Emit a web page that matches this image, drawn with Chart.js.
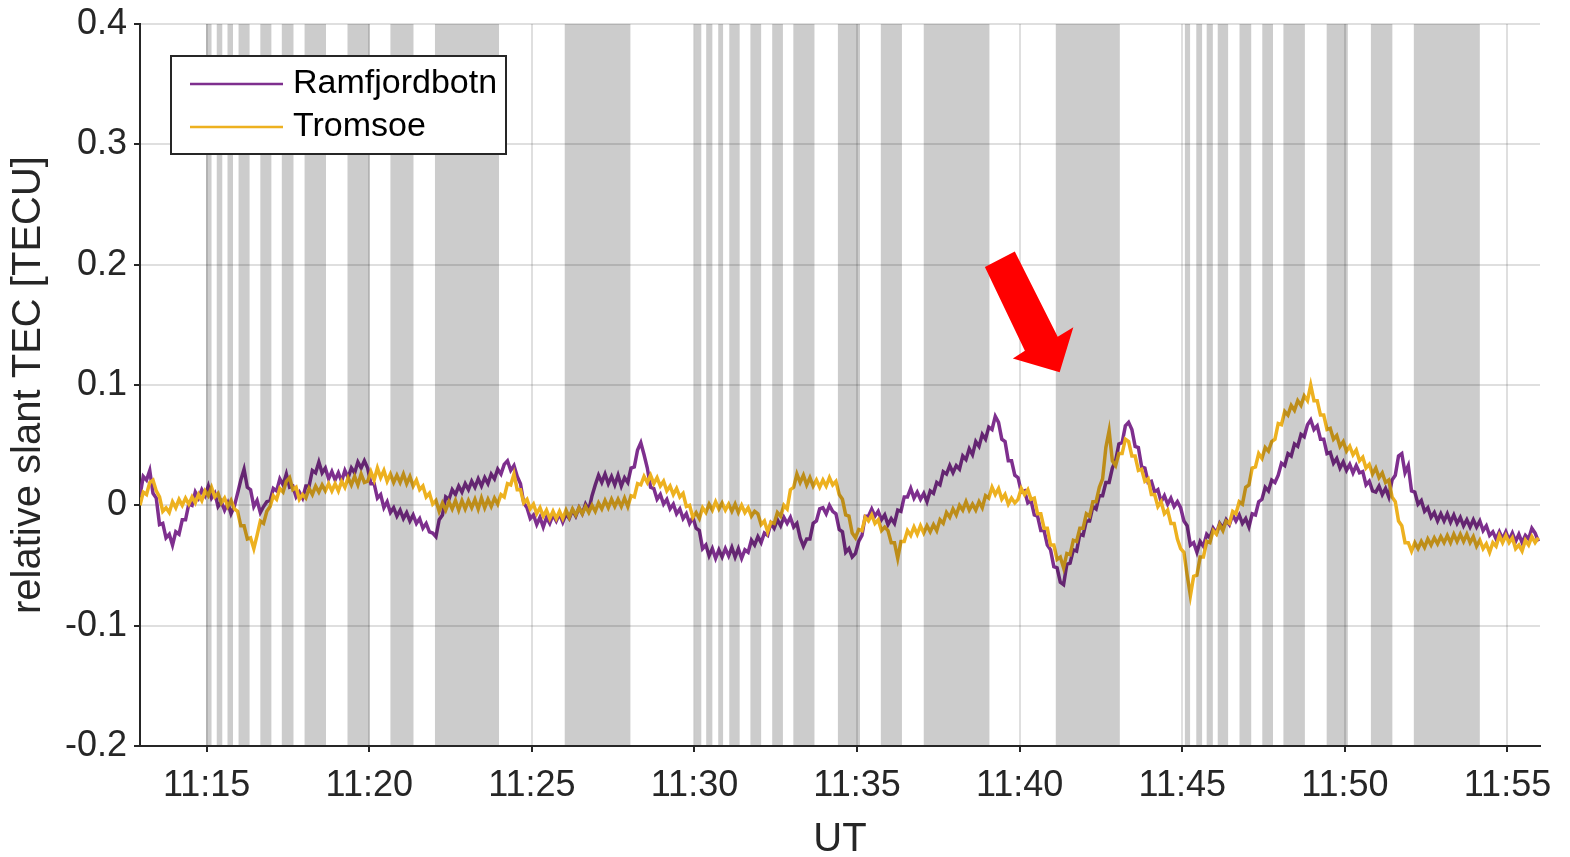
<!DOCTYPE html>
<html><head><meta charset="utf-8">
<script src="https://cdn.jsdelivr.net/npm/chart.js@4"></script>
<style>html,body{margin:0;padding:0;background:#fff}#wrap{width:1570px;height:857px}</style>
</head><body><div id="wrap"><canvas id="c" width="1570" height="857"></canvas></div>
<script>
// time in minutes after 11:00 UT, sampled every 0.1 min from 11:12.95
const T0 = 12.95, DT = 0.1;
const ramfjordbotn = [
0.008,0.024,0.021,0.029,0.010,0.006,-0.016,-0.015,-0.027,-0.024,
-0.033,-0.022,-0.024,-0.012,-0.012,0.001,0.000,0.011,0.006,0.013,
0.008,0.016,0.006,0.010,-0.001,0.003,-0.004,0.002,-0.007,-0.001,
0.010,0.021,0.030,0.015,0.013,-0.001,0.004,-0.006,-0.001,0.003,
0.004,0.014,0.012,0.022,0.017,0.026,0.015,0.016,0.007,0.011,
0.006,0.016,0.016,0.029,0.027,0.036,0.027,0.031,0.022,0.028,
0.021,0.027,0.020,0.029,0.023,0.031,0.027,0.036,0.031,0.037,
0.031,0.018,0.018,0.006,0.009,-0.002,0.003,-0.006,-0.002,-0.009,
-0.004,-0.011,-0.006,-0.013,-0.008,-0.015,-0.011,-0.019,-0.015,-0.022,
-0.023,-0.026,-0.012,-0.008,0.007,0.005,0.013,0.009,0.016,0.011,
0.018,0.013,0.020,0.015,0.022,0.016,0.023,0.018,0.026,0.022,
0.030,0.026,0.034,0.037,0.029,0.033,0.024,0.018,0.002,-0.002,
-0.011,-0.008,-0.016,-0.010,-0.018,-0.010,-0.015,-0.008,-0.013,-0.007,
-0.014,-0.007,-0.011,-0.004,-0.009,-0.002,-0.007,0.001,-0.004,0.008,
0.017,0.025,0.019,0.026,0.018,0.024,0.017,0.025,0.016,0.023,
0.019,0.031,0.032,0.046,0.052,0.042,0.031,0.015,0.014,0.005,
0.009,0.001,0.005,-0.003,0.001,-0.007,-0.003,-0.011,-0.007,-0.015,
-0.010,-0.019,-0.021,-0.036,-0.033,-0.042,-0.036,-0.044,-0.037,-0.043,
-0.036,-0.042,-0.035,-0.043,-0.036,-0.044,-0.037,-0.039,-0.029,-0.033,
-0.026,-0.031,-0.023,-0.025,-0.015,-0.019,-0.012,-0.017,-0.010,-0.015,
-0.010,-0.018,-0.015,-0.027,-0.034,-0.028,-0.028,-0.015,-0.013,-0.003,
-0.002,-0.007,0.000,-0.005,-0.007,-0.020,-0.022,-0.039,-0.036,-0.043,
-0.040,-0.030,-0.025,-0.009,-0.009,-0.003,-0.009,-0.005,-0.012,-0.008,
-0.016,-0.011,-0.015,-0.004,-0.005,0.007,0.007,0.014,0.006,0.011,
0.005,0.010,0.003,0.012,0.010,0.019,0.017,0.028,0.026,0.033,
0.027,0.033,0.030,0.041,0.038,0.047,0.042,0.053,0.049,0.059,
0.055,0.065,0.063,0.074,0.069,0.055,0.053,0.037,0.037,0.025,
0.023,0.011,0.012,0.002,0.004,-0.008,-0.009,-0.021,-0.021,-0.033,
-0.037,-0.051,-0.052,-0.064,-0.066,-0.049,-0.048,-0.037,-0.038,-0.024,
-0.025,-0.013,-0.013,-0.001,-0.003,0.008,0.008,0.019,0.019,0.031,
0.037,0.051,0.052,0.066,0.069,0.063,0.049,0.048,0.032,0.031,
0.019,0.020,0.011,0.013,0.003,0.008,0.001,0.006,-0.001,0.003,
-0.002,-0.013,-0.017,-0.033,-0.031,-0.039,-0.030,-0.034,-0.024,-0.027,
-0.019,-0.023,-0.015,-0.019,-0.012,-0.016,-0.008,-0.013,-0.008,-0.015,
-0.011,-0.018,-0.007,-0.008,0.003,0.005,0.015,0.012,0.021,0.019,
0.025,0.035,0.033,0.043,0.041,0.051,0.049,0.059,0.057,0.067,
0.071,0.063,0.066,0.055,0.055,0.043,0.044,0.035,0.039,0.031,
0.036,0.029,0.034,0.027,0.033,0.027,0.028,0.017,0.020,0.012,
0.011,0.016,0.009,0.014,0.007,0.021,0.025,0.041,0.043,0.027,
0.033,0.012,0.011,0.001,0.004,-0.005,-0.002,-0.010,-0.006,-0.013,
-0.007,-0.013,-0.007,-0.014,-0.008,-0.015,-0.010,-0.017,-0.012,-0.018,
-0.012,-0.018,-0.013,-0.021,-0.017,-0.025,-0.022,-0.028,-0.022,-0.028,
-0.022,-0.029,-0.023,-0.030,-0.024,-0.031,-0.025,-0.028,-0.019,-0.023,
-0.030];
const tromsoe = [
0.000,0.011,0.009,0.019,0.021,0.012,0.007,-0.005,-0.002,-0.006,
0.003,-0.002,0.005,0.000,0.006,0.001,0.007,0.002,0.009,0.004,
0.012,0.008,0.015,0.007,0.010,0.002,0.006,-0.001,0.004,-0.003,
-0.005,-0.017,-0.017,-0.028,-0.027,-0.036,-0.025,-0.013,-0.015,-0.005,
-0.001,0.008,0.005,0.014,0.011,0.020,0.023,0.013,0.015,0.005,
0.009,0.006,0.014,0.009,0.016,0.011,0.017,0.012,0.018,0.012,
0.018,0.012,0.020,0.015,0.023,0.017,0.024,0.017,0.026,0.019,
0.020,0.028,0.021,0.031,0.023,0.029,0.020,0.026,0.019,0.025,
0.019,0.026,0.018,0.024,0.016,0.021,0.013,0.016,0.007,0.010,
0.001,0.004,-0.005,0.002,-0.004,0.003,-0.003,0.004,-0.004,0.004,
-0.003,0.004,-0.002,0.005,-0.003,0.006,-0.002,0.005,-0.001,0.006,
0.001,0.009,0.007,0.018,0.017,0.026,0.013,0.013,0.002,0.005,
-0.003,0.001,-0.007,-0.002,-0.009,-0.004,-0.011,-0.005,-0.011,-0.005,
-0.011,-0.004,-0.010,-0.003,-0.008,-0.002,-0.007,-0.001,-0.006,0.000,
-0.005,0.002,-0.003,0.004,-0.002,0.005,-0.001,0.005,-0.001,0.006,
-0.001,0.008,0.007,0.018,0.017,0.024,0.019,0.025,0.018,0.023,
0.016,0.020,0.012,0.016,0.009,0.014,0.007,0.010,-0.001,0.000,
-0.010,-0.006,-0.011,-0.002,-0.006,0.001,-0.004,0.003,-0.003,0.002,
-0.004,0.001,-0.005,0.001,-0.006,0.000,-0.006,-0.002,-0.009,-0.005,
-0.007,-0.016,-0.013,-0.022,-0.014,-0.015,-0.006,-0.009,0.000,-0.003,
0.013,0.015,0.026,0.019,0.025,0.017,0.023,0.016,0.021,0.015,
0.021,0.016,0.023,0.017,0.020,0.009,0.005,-0.008,-0.009,-0.023,
-0.027,-0.020,-0.021,-0.010,-0.013,-0.008,-0.015,-0.012,-0.021,-0.018,
-0.021,-0.031,-0.031,-0.044,-0.030,-0.030,-0.021,-0.025,-0.018,-0.024,
-0.017,-0.023,-0.017,-0.022,-0.016,-0.021,-0.012,-0.015,-0.006,-0.010,
-0.003,-0.008,0.000,-0.004,0.003,-0.004,0.001,-0.004,0.003,-0.002,
0.008,0.006,0.015,0.009,0.014,0.005,0.009,0.001,0.006,0.002,
0.005,0.014,0.009,0.013,0.005,0.006,-0.007,-0.007,-0.019,-0.019,
-0.033,-0.033,-0.045,-0.043,-0.052,-0.040,-0.041,-0.029,-0.030,-0.019,
-0.019,-0.007,-0.009,0.003,0.003,0.015,0.022,0.048,0.062,0.037,
0.033,0.043,0.043,0.055,0.053,0.041,0.041,0.029,0.030,0.020,
0.022,0.009,0.009,-0.001,0.003,-0.007,-0.004,-0.015,-0.015,-0.028,
-0.036,-0.039,-0.058,-0.075,-0.059,-0.058,-0.043,-0.043,-0.030,-0.031,
-0.021,-0.024,-0.016,-0.021,-0.013,-0.015,-0.005,-0.007,0.003,0.001,
0.015,0.017,0.031,0.032,0.043,0.039,0.048,0.045,0.053,0.055,
0.068,0.067,0.078,0.075,0.083,0.079,0.087,0.083,0.091,0.087,
0.100,0.087,0.087,0.075,0.075,0.063,0.064,0.055,0.058,0.049,
0.053,0.045,0.049,0.042,0.046,0.037,0.040,0.031,0.034,0.026,
0.031,0.023,0.027,0.019,0.021,0.007,0.003,-0.013,-0.017,-0.031,
-0.031,-0.038,-0.031,-0.036,-0.030,-0.035,-0.028,-0.033,-0.027,-0.032,
-0.026,-0.031,-0.025,-0.031,-0.024,-0.030,-0.024,-0.030,-0.024,-0.031,
-0.026,-0.034,-0.029,-0.036,-0.032,-0.039,-0.031,-0.034,-0.025,-0.031,
-0.025,-0.031,-0.027,-0.036,-0.033,-0.038,-0.029,-0.033,-0.026,-0.031,
-0.027];
const xTickValues = [15,20,25,30,35,40,45,50,55];
const yTickValues = [-0.2,-0.1,0,0.1,0.2,0.3,0.4];
// shaded intervals (minutes after 11:00)
const bandStart = [14.98,15.31,15.64,15.98,16.65,17.31,18.01,19.33,20.65,22.02,26.01,
  30.00,30.36,30.73,31.07,31.72,32.39,33.04,34.41,35.73,37.05,41.11,
  45.08,45.43,45.75,46.09,46.76,47.46,48.11,49.44,50.80,52.12];
const bandEnd = [15.15,15.48,15.81,16.32,16.99,17.67,18.67,20.01,21.36,23.99,28.03,
  30.21,30.55,30.88,31.39,32.05,32.72,33.69,35.09,36.38,39.07,43.08,
  45.24,45.61,45.94,46.41,47.12,47.79,48.77,50.09,51.46,54.15];
// red arrow outline in data coordinates
const arrowT = [38.93,39.85,41.17,41.65,41.23,39.79,40.16];
const arrowV = [0.198,0.211,0.140,0.148,0.1105,0.122,0.1285];

const FONT = "'Liberation Sans', Arial, Helvetica, sans-serif";
const toPts = arr => arr.map((v,i) => ({x: T0 + i*DT, y: v}));

const bandsPlugin = {
  id: 'bands',
  afterDatasetsDraw(chart) {
    const {ctx, chartArea: a, scales: {x}} = chart;
    ctx.save();
    ctx.fillStyle = 'rgba(0,0,0,0.2)';
    for (let i = 0; i < bandStart.length; i++) {
      const x1 = x.getPixelForValue(bandStart[i]);
      const x2 = x.getPixelForValue(bandEnd[i]);
      ctx.fillRect(x1, a.top, x2 - x1, a.bottom - a.top - 1);
    }
    ctx.restore();
  }
};
const arrowPlugin = {
  id: 'arrow',
  afterDatasetsDraw(chart) {
    const {ctx, scales: {x, y}} = chart;
    ctx.save();
    ctx.fillStyle = '#ff0000';
    ctx.beginPath();
    arrowT.forEach((t, i) => {
      const px = x.getPixelForValue(t), py = y.getPixelForValue(arrowV[i]);
      if (i === 0) ctx.moveTo(px, py); else ctx.lineTo(px, py);
    });
    ctx.closePath();
    ctx.fill();
    ctx.restore();
  }
};
const legendPlugin = {
  id: 'boxLegend',
  afterDraw(chart) {
    const {ctx, chartArea: a} = chart;
    const L = a.left + 31, T = a.top + 32, W = 335, H = 98;
    ctx.save();
    ctx.fillStyle = '#fff';
    ctx.fillRect(L, T, W, H);
    ctx.strokeStyle = '#262626';
    ctx.lineWidth = 2;
    ctx.strokeRect(L, T, W, H);
    ctx.font = '34px ' + FONT;
    ctx.textBaseline = 'middle';
    ctx.textAlign = 'left';
    const dsOrder = [1, 0];
    dsOrder.forEach((di, k) => {
      const ds = chart.data.datasets[di];
      const yy = T + 28 + k * 43;
      ctx.strokeStyle = ds.borderColor;
      ctx.lineWidth = 2.5;
      ctx.beginPath(); ctx.moveTo(L + 19, yy); ctx.lineTo(L + 112, yy); ctx.stroke();
      ctx.fillStyle = '#000';
      ctx.fillText(ds.label, L + 122, yy);
    });
    ctx.restore();
  }
};

new Chart(document.getElementById('c'), {
  type: 'line',
  data: {
    datasets: [
      {label: 'Tromsoe', data: toPts(tromsoe), borderColor: '#EDB120', borderWidth: 3.5, pointRadius: 0, tension: 0, order: 1},
      {label: 'Ramfjordbotn', data: toPts(ramfjordbotn), borderColor: '#7E2F8E', borderWidth: 3.5, pointRadius: 0, tension: 0, order: 2}
    ]
  },
  options: {
    responsive: false, animation: false, devicePixelRatio: 1,
    layout: {padding: {top: 24, right: 30, left: 0, bottom: 0}},
    plugins: {legend: {display: false}, tooltip: {enabled: false}},
    scales: {
      x: {
        type: 'linear', min: 12.95, max: 56.0,
        afterBuildTicks: s => { s.ticks = xTickValues.map(v => ({value: v})); },
        afterFit: s => { s.height = 111; s.paddingLeft = 0; s.paddingRight = 0; },
        grid: {color: 'rgba(38,38,38,0.15)', lineWidth: 2, drawTicks: true, tickLength: 6, tickColor: '#262626', tickWidth: 2},
        border: {color: '#262626', width: 2},
        ticks: {font: {family: FONT, size: 36}, color: '#262626', padding: 12, maxRotation: 0, autoSkip: false,
          callback: v => '11:' + String(v).padStart(2, '0')},
        title: {display: true, text: 'UT', color: '#262626', font: {family: FONT, size: 40, lineHeight: 0.8}, padding: {top: 0, bottom: 1}}
      },
      y: {
        min: -0.2, max: 0.4,
        afterBuildTicks: s => { s.ticks = yTickValues.map(v => ({value: v})); },
        afterFit: s => { s.width = 140; s.paddingTop = 0; s.paddingBottom = 0; },
        grid: {color: 'rgba(38,38,38,0.15)', lineWidth: 2, drawTicks: true, tickLength: 6, tickColor: '#262626', tickWidth: 2},
        border: {color: '#262626', width: 2},
        ticks: {font: {family: FONT, size: 36}, color: '#262626', padding: 7,
          callback: v => (Math.abs(v) < 1e-9 ? '0' : v.toFixed(1))},
        title: {display: true, text: 'relative slant TEC [TECU]', color: '#262626', font: {family: FONT, size: 40, lineHeight: 1}, padding: {top: 9, bottom: 0}}
      }
    }
  },
  plugins: [bandsPlugin, arrowPlugin, legendPlugin]
});
</script></body></html>
